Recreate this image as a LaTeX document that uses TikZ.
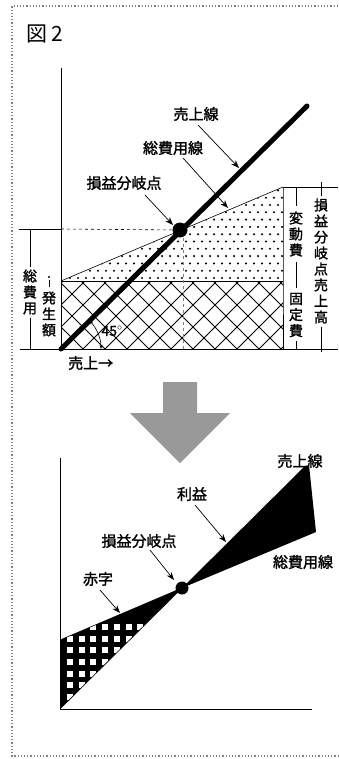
\documentclass[tikz,border=0pt]{standalone}
\usepackage{fontspec}
\newfontfamily\jp{Noto Sans CJK JP}[FakeBold=1.6]
\newfontfamily\jpt{Noto Sans CJK JP}
\usetikzlibrary{arrows.meta}
\tikzset{
  lbl/.style={font=\jp\fontsize{15}{16}\selectfont, inner sep=0pt},
  vlbl/.style={font=\jp\fontsize{14}{16}\selectfont, inner sep=0pt, align=center},
  ptr/.style={line width=0.7pt, -{Stealth[length=8pt,width=6pt]}},
  axis/.style={line width=0.8pt},
  thin line/.style={line width=0.6pt},
}
\begin{document}
\begin{tikzpicture}[x=1pt,y=-1pt]
\useasboundingbox (0,0) rectangle (338,759);
% frame
\draw[gray, dotted, line width=1.2pt] (338,6) -- (12,6) -- (12,756) -- (338,756);
\node[font=\jpt\fontsize{21}{22}\selectfont, inner sep=0pt, anchor=west] (title) at (26,34) {図 2};

% ===== top chart =====
\coordinate (O) at (61,349);
\coordinate (Ytop) at (61,68);
\coordinate (F0) at (61,281);
\coordinate (F1) at (283,281);
\coordinate (C1) at (283,187);
\coordinate (S1) at (307,106);
\coordinate (BE) at (180,230);
\coordinate (Xr) at (338,349);
\coordinate (Xl) at (20,349);

% dots region
\begin{scope}
\clip (F0) -- (C1) -- (F1) -- cycle;
\foreach \r in {0,...,13} {
  \foreach \c in {0,...,28} {
    \fill ({62+8*\c+4*mod(\r,2)}, {278-7.3*\r}) circle[radius=1.15pt];
  }
}
\end{scope}
% crosshatch
\begin{scope}
\clip (F0) rectangle (283,349);
\foreach \i in {-4,...,14} {
  \draw[line width=0.8pt] ({61+22*\i},349) -- ++(80,-80);
  \draw[line width=0.8pt] ({61+22*\i},349) -- ++(-80,-80);
}
\end{scope}
\draw[thin line] (F0) -- (F1);
\draw[thin line] (F0) -- (C1);
\draw[thin line] (283,187) -- (F1) -- (283,349);
\draw[thin line] (C1) -- (338,187);
\draw[axis] (Ytop) -- (O);
\draw[axis] (Xl) -- (Xr);
% dashed guide lines
\draw[thin line] (19,229) -- (61,229);
\draw[thin line, dashed] (61,229) -- (BE);
\draw[line width=0.5pt, dash pattern=on 3pt off 3pt, gray] (183,238) -- (183,349);
% sales line
\draw[line width=5pt, line cap=round] (O) -- (S1);
\fill (BE) circle[radius=7.5pt];
% 45 degree arc
\draw[line width=0.6pt, {Stealth[length=4pt,width=3pt]}-{Stealth[length=4pt,width=3pt]}] (101,349) arc[start angle=0, end angle=-45, radius=40];
\node[font=\jp\fontsize{14}{14}\selectfont, inner sep=0pt] (deg) at (112,331) {45$^{\circ}$};
\node[lbl, anchor=west] (xlab) at (68,363) {売上→};

% labels & pointers top
\node[lbl] (L1) at (196,114) {売上線};
\node[lbl] (L2) at (173,148) {総費用線};
\node[lbl] (L3) at (124,183) {損益分岐点};
\coordinate (L1s) at (198,125); \coordinate (L1e) at (239,168);
\coordinate (L2s) at (183,158); \coordinate (L2e) at (228,208);
\coordinate (L3s) at (145,195); \coordinate (L3e) at (173,225);
\draw[ptr] (L1s) -- (L1e);
\draw[ptr] (L2s) -- (L2e);
\draw[ptr] (L3s) -- (L3e);

% left dimension
\draw[thin line] (30,229) -- (30,267);
\node[vlbl] (tc) at (30,292) {総\\費\\用};
\draw[thin line] (30,318) -- (30,349);
\fill (49,277) circle[radius=1.2pt];
\draw[thin line] (49,280) -- (49,287);
\node[vlbl] (hs) at (49,314) {発\\生\\額};

% right dimension
\draw[thin line] (296,187) -- (296,206);
\node[vlbl] (vc) at (296,234) {変\\動\\費};
\draw[thin line] (296,262) -- (296,288);
\node[vlbl] (fc) at (296,315) {固\\定\\費};
\draw[thin line] (296,341) -- (296,349);
\draw[thin line] (321,182) -- (321,196);
\node[vlbl] (bes) at (321,261) {損\\益\\分\\岐\\点\\売\\上\\高};
\draw[thin line] (321,327) -- (321,352);

% ===== big arrow =====
\fill[black!40] (163,382) -- (197,382) -- (197,413) -- (230,413) -- (180,463) -- (130,413) -- (163,413) -- cycle;

% ===== bottom chart =====
\coordinate (O2) at (60,709);
\coordinate (Y2) at (60,458);
\coordinate (X2) at (312,709);
\coordinate (F2) at (60,640);
\coordinate (BE2) at (182,588);
\coordinate (S2) at (305,466);
\coordinate (S2b) at (309,465);
\coordinate (C2) at (316,532);

\fill[black] (F2) -- (BE2) -- (O2) -- cycle;
\begin{scope}
\clip (F2) -- (BE2) -- (O2) -- cycle;
\foreach \r in {-1,...,6} {
  \foreach \c in {0,...,11} {
    \fill[white] ({67+11.7*\c}, {694-11.7*\r}) rectangle ++(6,6);
  }
}
\end{scope}
\draw[thin line] (F2) -- (BE2) -- (O2);
\fill[black] (BE2) -- (S2) -- (S2b) -- (C2) -- cycle;
\draw[axis] (Y2) -- (O2) -- (X2);
\fill (BE2) circle[radius=6.5pt];

\node[lbl] (B1) at (300,461) {売上線};
\node[lbl] (B2) at (192,494) {利益};
\node[lbl] (B3) at (139,541) {損益分岐点};
\node[lbl] (B4) at (303,562) {総費用線};
\node[lbl] (B5) at (98,579) {赤字};
\coordinate (B2s) at (195,505); \coordinate (B2e) at (226,542);
\coordinate (B3s) at (150,550); \coordinate (B3e) at (174,580);
\coordinate (B5s) at (100,590); \coordinate (B5e) at (120,613);
\draw[ptr] (B2s) -- (B2e);
\draw[ptr] (B3s) -- (B3e);
\draw[ptr] (B5s) -- (B5e);
\end{tikzpicture}
\end{document}
